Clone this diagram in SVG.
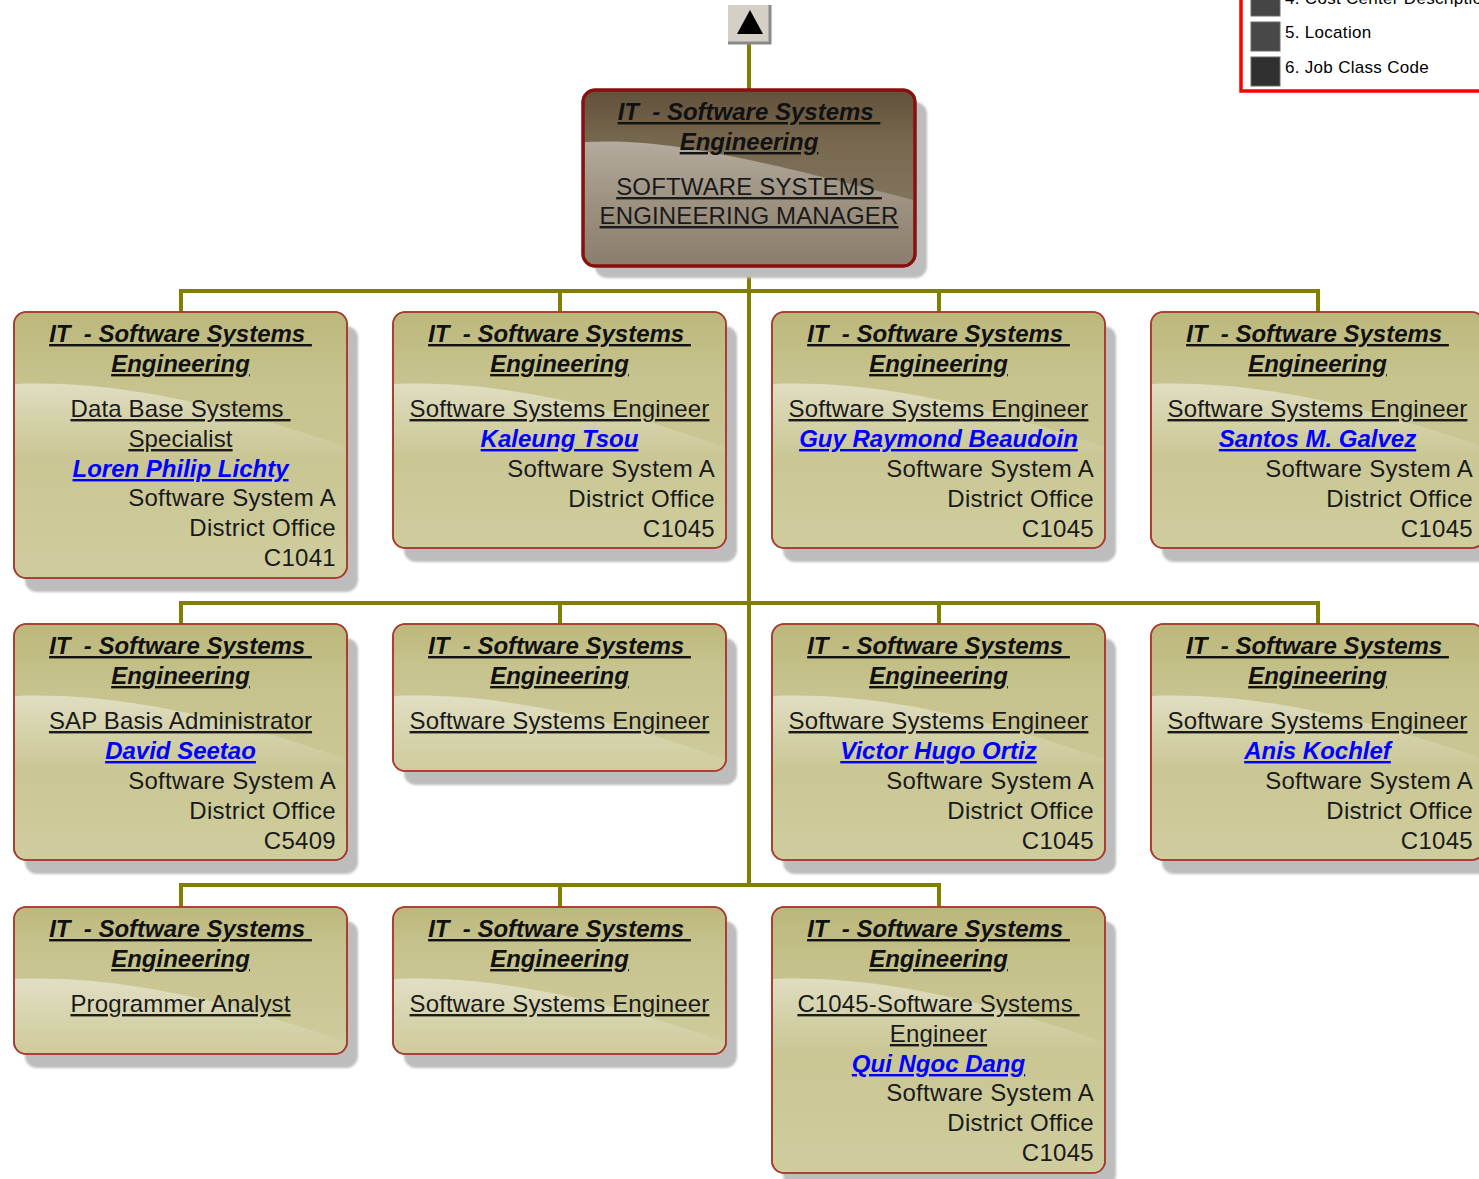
<svg xmlns="http://www.w3.org/2000/svg" width="1479" height="1179" viewBox="0 0 1479 1179">
<style>
.t{font-family:"Liberation Sans",Arial,sans-serif;font-size:24px;font-weight:bold;font-style:italic;text-decoration:underline;white-space:pre;fill:#111;text-anchor:middle}
.j{font-family:"Liberation Sans",Arial,sans-serif;font-size:24px;letter-spacing:0.15px;text-decoration:underline;white-space:pre;fill:#1a1a1a;text-anchor:middle}
.n{font-family:"Liberation Sans",Arial,sans-serif;font-size:24px;font-weight:bold;font-style:italic;text-decoration:underline;white-space:pre;fill:#0000ff;text-anchor:middle}
.d{font-family:"Liberation Sans",Arial,sans-serif;font-size:24px;letter-spacing:0.3px;white-space:pre;fill:#1a1a1a;text-anchor:end}
.lg{font-family:"Liberation Sans",Arial,sans-serif;font-size:17px;letter-spacing:0.3px;fill:#000}
.sh{fill:#bdbdbd;filter:url(#blur)}
.box{fill:url(#gOlive);stroke:#a83a30;stroke-width:1.6}
.rbox{fill:url(#gBrown);stroke:#8a1010;stroke-width:3}
.hl{fill:url(#gHl)}
.conn{fill:none;stroke:#808000;stroke-width:4}
</style>
<defs>
<filter id="blur" x="-5%" y="-5%" width="110%" height="110%"><feGaussianBlur stdDeviation="1.2"/></filter>
<linearGradient id="gOlive" x1="0" y1="0" x2="0" y2="1">
<stop offset="0" stop-color="#bcb87c"/>
<stop offset="0.28" stop-color="#c6c38e"/>
<stop offset="1" stop-color="#cfcc9e"/>
</linearGradient>
<linearGradient id="gBrown" x1="0" y1="0" x2="0" y2="1">
<stop offset="0" stop-color="#62513b"/>
<stop offset="0.3" stop-color="#77684f"/>
<stop offset="1" stop-color="#8e8070"/>
</linearGradient>
<linearGradient id="gHl" x1="0" y1="0" x2="0" y2="1">
<stop offset="0" stop-color="#ffffff" stop-opacity="0.45"/>
<stop offset="0.5" stop-color="#ffffff" stop-opacity="0.22"/>
<stop offset="1" stop-color="#ffffff" stop-opacity="0"/>
</linearGradient>
<path id="hlc" d="M1,72 C100,68 210,92 332,135 L332,146 L1,146 Z"/>
</defs>
<rect width="1479" height="1179" fill="#ffffff"/>

<g id="legend">
<rect x="1241" y="-10" width="260" height="101" fill="#ffffff" stroke="#ff0000" stroke-width="3.5"/>
<rect x="1251" y="-13" width="29" height="29" fill="#454545" stroke="#6a6a6a" stroke-width="1"/>
<rect x="1251" y="22" width="29" height="29" fill="#484848" stroke="#6a6a6a" stroke-width="1"/>
<rect x="1251" y="57" width="29" height="29" fill="#303030" stroke="#6a6a6a" stroke-width="1"/>
<text class="lg" x="1285" y="4">4. Cost Center Description</text>
<text class="lg" x="1285" y="38">5. Location</text>
<text class="lg" x="1285" y="73">6. Job Class Code</text>
</g>

<g id="connectors">
<path class="conn" d="M749,43 V90"/>
<path class="conn" d="M749,266 V885"/>
<path class="conn" d="M181,312 V291 H1318 V312 M560,291 V312 M939,291 V312"/>
<path class="conn" d="M181,624 V603 H1318 V624 M560,603 V624 M939,603 V624"/>
<path class="conn" d="M181,907 V885 H939 V907 M560,885 V907"/>
</g>

<g id="up-button">
<rect x="728" y="5" width="42" height="38" fill="#d4d0c8"/>
<path d="M770,5 V43 H728" fill="none" stroke="#8a8a8a" stroke-width="3"/>
<polygon points="750,10 763,34 737,34" fill="#000"/>
</g>

<g id="root" transform="translate(583,90)">
<rect class="sh" x="12" y="12" width="332" height="176" rx="12"/>
<rect class="rbox" width="332" height="176" rx="12"/>
<path class="hl" d="M2,52 C80,48 160,66 330,110 L330,172 L2,172 Z"/>
<rect width="332" height="176" rx="12" fill="none" stroke="#8a1010" stroke-width="3"/>
<text class="t" x="166" y="30">IT  - Software Systems </text>
<text class="t" x="166" y="60">Engineering</text>
<text class="j" x="166" y="105">SOFTWARE SYSTEMS </text>
<text class="j" x="166" y="134">ENGINEERING MANAGER</text>
</g>

<g id="n1" transform="translate(14,312)">
<rect class="sh" x="11" y="14" width="333" height="266" rx="12"/>
<rect class="box" width="333" height="266" rx="12"/>
<use href="#hlc" class="hl"/>
<rect width="333" height="266" rx="12" fill="none" stroke="#a83a30" stroke-width="1.6"/>
<text class="t" x="166.5" y="30">IT  - Software Systems </text>
<text class="t" x="166.5" y="60">Engineering</text>
<text class="j" x="166.5" y="105">Data Base Systems </text>
<text class="j" x="166.5" y="135">Specialist</text>
<text class="n" x="166.5" y="165">Loren Philip Lichty</text>
<text class="d" x="322" y="194">Software System A</text>
<text class="d" x="322" y="224">District Office</text>
<text class="d" x="322" y="254">C1041</text>
</g>

<g id="n2" transform="translate(393,312)">
<rect class="sh" x="11" y="14" width="333" height="236" rx="12"/>
<rect class="box" width="333" height="236" rx="12"/>
<use href="#hlc" class="hl"/>
<rect width="333" height="236" rx="12" fill="none" stroke="#a83a30" stroke-width="1.6"/>
<text class="t" x="166.5" y="30">IT  - Software Systems </text>
<text class="t" x="166.5" y="60">Engineering</text>
<text class="j" x="166.5" y="105">Software Systems Engineer</text>
<text class="n" x="166.5" y="135">Kaleung Tsou</text>
<text class="d" x="322" y="165">Software System A</text>
<text class="d" x="322" y="195">District Office</text>
<text class="d" x="322" y="225">C1045</text>
</g>

<g id="n3" transform="translate(772,312)">
<rect class="sh" x="11" y="14" width="333" height="236" rx="12"/>
<rect class="box" width="333" height="236" rx="12"/>
<use href="#hlc" class="hl"/>
<rect width="333" height="236" rx="12" fill="none" stroke="#a83a30" stroke-width="1.6"/>
<text class="t" x="166.5" y="30">IT  - Software Systems </text>
<text class="t" x="166.5" y="60">Engineering</text>
<text class="j" x="166.5" y="105">Software Systems Engineer</text>
<text class="n" x="166.5" y="135">Guy Raymond Beaudoin</text>
<text class="d" x="322" y="165">Software System A</text>
<text class="d" x="322" y="195">District Office</text>
<text class="d" x="322" y="225">C1045</text>
</g>

<g id="n4" transform="translate(1151,312)">
<rect class="sh" x="11" y="14" width="333" height="236" rx="12"/>
<rect class="box" width="333" height="236" rx="12"/>
<use href="#hlc" class="hl"/>
<rect width="333" height="236" rx="12" fill="none" stroke="#a83a30" stroke-width="1.6"/>
<text class="t" x="166.5" y="30">IT  - Software Systems </text>
<text class="t" x="166.5" y="60">Engineering</text>
<text class="j" x="166.5" y="105">Software Systems Engineer</text>
<text class="n" x="166.5" y="135">Santos M. Galvez</text>
<text class="d" x="322" y="165">Software System A</text>
<text class="d" x="322" y="195">District Office</text>
<text class="d" x="322" y="225">C1045</text>
</g>

<g id="n5" transform="translate(14,624)">
<rect class="sh" x="11" y="14" width="333" height="236" rx="12"/>
<rect class="box" width="333" height="236" rx="12"/>
<use href="#hlc" class="hl"/>
<rect width="333" height="236" rx="12" fill="none" stroke="#a83a30" stroke-width="1.6"/>
<text class="t" x="166.5" y="30">IT  - Software Systems </text>
<text class="t" x="166.5" y="60">Engineering</text>
<text class="j" x="166.5" y="105">SAP Basis Administrator</text>
<text class="n" x="166.5" y="135">David Seetao</text>
<text class="d" x="322" y="165">Software System A</text>
<text class="d" x="322" y="195">District Office</text>
<text class="d" x="322" y="225">C5409</text>
</g>

<g id="n6" transform="translate(393,624)">
<rect class="sh" x="11" y="14" width="333" height="147" rx="12"/>
<rect class="box" width="333" height="147" rx="12"/>
<use href="#hlc" class="hl"/>
<rect width="333" height="147" rx="12" fill="none" stroke="#a83a30" stroke-width="1.6"/>
<text class="t" x="166.5" y="30">IT  - Software Systems </text>
<text class="t" x="166.5" y="60">Engineering</text>
<text class="j" x="166.5" y="105">Software Systems Engineer</text>
</g>

<g id="n7" transform="translate(772,624)">
<rect class="sh" x="11" y="14" width="333" height="236" rx="12"/>
<rect class="box" width="333" height="236" rx="12"/>
<use href="#hlc" class="hl"/>
<rect width="333" height="236" rx="12" fill="none" stroke="#a83a30" stroke-width="1.6"/>
<text class="t" x="166.5" y="30">IT  - Software Systems </text>
<text class="t" x="166.5" y="60">Engineering</text>
<text class="j" x="166.5" y="105">Software Systems Engineer</text>
<text class="n" x="166.5" y="135">Victor Hugo Ortiz</text>
<text class="d" x="322" y="165">Software System A</text>
<text class="d" x="322" y="195">District Office</text>
<text class="d" x="322" y="225">C1045</text>
</g>

<g id="n8" transform="translate(1151,624)">
<rect class="sh" x="11" y="14" width="333" height="236" rx="12"/>
<rect class="box" width="333" height="236" rx="12"/>
<use href="#hlc" class="hl"/>
<rect width="333" height="236" rx="12" fill="none" stroke="#a83a30" stroke-width="1.6"/>
<text class="t" x="166.5" y="30">IT  - Software Systems </text>
<text class="t" x="166.5" y="60">Engineering</text>
<text class="j" x="166.5" y="105">Software Systems Engineer</text>
<text class="n" x="166.5" y="135">Anis Kochlef</text>
<text class="d" x="322" y="165">Software System A</text>
<text class="d" x="322" y="195">District Office</text>
<text class="d" x="322" y="225">C1045</text>
</g>

<g id="n9" transform="translate(14,907)">
<rect class="sh" x="11" y="14" width="333" height="147" rx="12"/>
<rect class="box" width="333" height="147" rx="12"/>
<use href="#hlc" class="hl"/>
<rect width="333" height="147" rx="12" fill="none" stroke="#a83a30" stroke-width="1.6"/>
<text class="t" x="166.5" y="30">IT  - Software Systems </text>
<text class="t" x="166.5" y="60">Engineering</text>
<text class="j" x="166.5" y="105">Programmer Analyst</text>
</g>

<g id="n10" transform="translate(393,907)">
<rect class="sh" x="11" y="14" width="333" height="147" rx="12"/>
<rect class="box" width="333" height="147" rx="12"/>
<use href="#hlc" class="hl"/>
<rect width="333" height="147" rx="12" fill="none" stroke="#a83a30" stroke-width="1.6"/>
<text class="t" x="166.5" y="30">IT  - Software Systems </text>
<text class="t" x="166.5" y="60">Engineering</text>
<text class="j" x="166.5" y="105">Software Systems Engineer</text>
</g>

<g id="n11" transform="translate(772,907)">
<rect class="sh" x="11" y="14" width="333" height="266" rx="12"/>
<rect class="box" width="333" height="266" rx="12"/>
<use href="#hlc" class="hl"/>
<rect width="333" height="266" rx="12" fill="none" stroke="#a83a30" stroke-width="1.6"/>
<text class="t" x="166.5" y="30">IT  - Software Systems </text>
<text class="t" x="166.5" y="60">Engineering</text>
<text class="j" x="166.5" y="105">C1045-Software Systems </text>
<text class="j" x="166.5" y="135">Engineer</text>
<text class="n" x="166.5" y="165">Qui Ngoc Dang</text>
<text class="d" x="322" y="194">Software System A</text>
<text class="d" x="322" y="224">District Office</text>
<text class="d" x="322" y="254">C1045</text>
</g>
</svg>
